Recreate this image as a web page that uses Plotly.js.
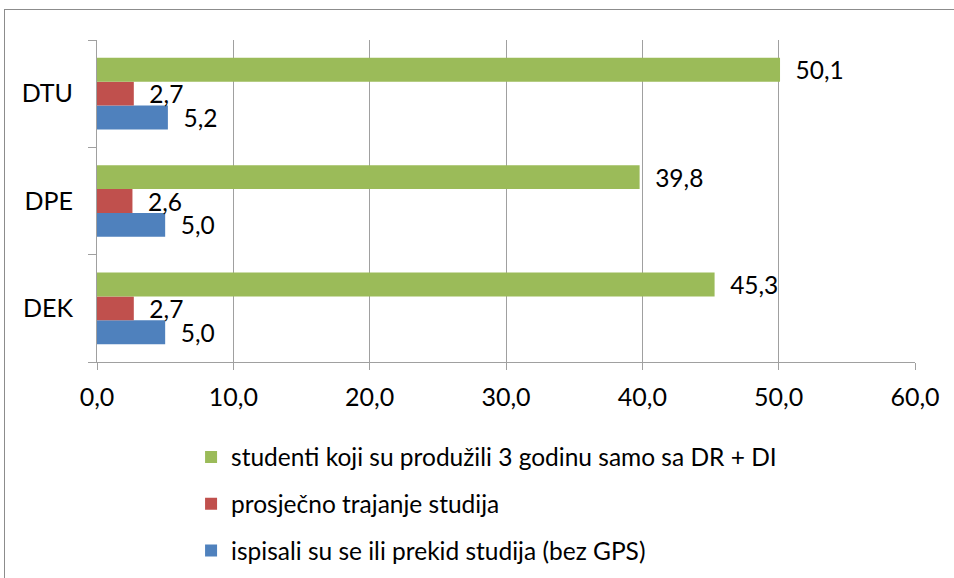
<!DOCTYPE html>
<html>
<head>
<meta charset="utf-8">
<script src="https://cdn.plot.ly/plotly-3.0.1.min.js"></script>
<style>
html,body{margin:0;padding:0;background:#fff;}
#wrap{position:relative;width:954px;height:578px;overflow:hidden;}
#frame{position:absolute;left:4px;top:9px;width:960px;height:600px;border-left:1px solid #8c8c8c;border-top:1px solid #8c8c8c;pointer-events:none;z-index:5;}
#chart{position:absolute;left:0;top:0;width:954px;height:578px;}
</style>
</head>
<body>
<div id="wrap"><div id="chart"></div><div id="frame"></div></div>
<script>
const categories = ['DEK', 'DPE', 'DTU'];
const seriesNames = [
  'ispisali su se ili prekid studija (bez GPS)',
  'prosječno trajanje studija',
  'studenti koji su produžili 3 godinu samo sa DR + DI'
];
const ispisali = [5.0, 5.0, 5.2];
const prosjecno = [2.7, 2.6, 2.7];
const produzili = [45.3, 39.8, 50.1];
const xTicks = [0, 10, 20, 30, 40, 50, 60];
const colors = ['#4F81BD', '#C0504D', '#9BBB59'];

const FONT = 'Lato, "Open Sans", sans-serif';
const values = [ispisali, prosjecno, produzili];
const traces = values.map((v, i) => ({
  type: 'bar',
  orientation: 'h',
  name: seriesNames[i],
  y: categories,
  x: v,
  marker: {color: colors[i]},
  texttemplate: '\u00A0\u00A0%{x:.1f}',
  textposition: 'outside',
  constraintext: 'none',
  cliponaxis: false,
  textfont: {family: FONT, size: 24.5, color: '#000'},
  legendgroup: 'g' + i,
  legendrank: 3 - i,
  hoverinfo: 'none'
}));

const layout = {
  width: 954, height: 578,
  margin: {l: 97, r: 39, t: 40, b: 216, autoexpand: false},
  paper_bgcolor: '#fff', plot_bgcolor: '#fff',
  separators: ',.',
  font: {family: FONT, size: 25, color: '#000'},
  barmode: 'group',
  bargap: 0.333, bargroupgap: 0,
  showlegend: true,
  legend: {
    x: 0.115, xanchor: 'left', y: -0.225, yanchor: 'top',
    traceorder: 'grouped', tracegroupgap: 12,
    font: {family: FONT, size: 24.5, color: '#000'},
    bgcolor: 'rgba(0,0,0,0)'
  },
  xaxis: {
    range: [0, 60], tickvals: xTicks, tickformat: '.1f',
    showgrid: true, gridcolor: '#a0a0a0', gridwidth: 1,
    showline: true, linecolor: '#a0a0a0', linewidth: 1,
    ticks: 'outside', ticklen: 7, tickcolor: '#a0a0a0',
    ticklabelstandoff: 6, zeroline: false, fixedrange: true, automargin: false
  },
  yaxis: {
    type: 'category', categoryorder: 'array', categoryarray: categories,
    range: [-0.5, 2.5],
    showgrid: false, showline: true, linecolor: '#a0a0a0', linewidth: 1,
    ticks: 'outside', tickson: 'boundaries', ticklen: 8, tickcolor: '#a0a0a0',
    ticklabelstandoff: 18, fixedrange: true, automargin: false
  }
};

Plotly.newPlot('chart', traces, layout, {displayModeBar: false, staticPlot: true});
</script>
</body>
</html>
